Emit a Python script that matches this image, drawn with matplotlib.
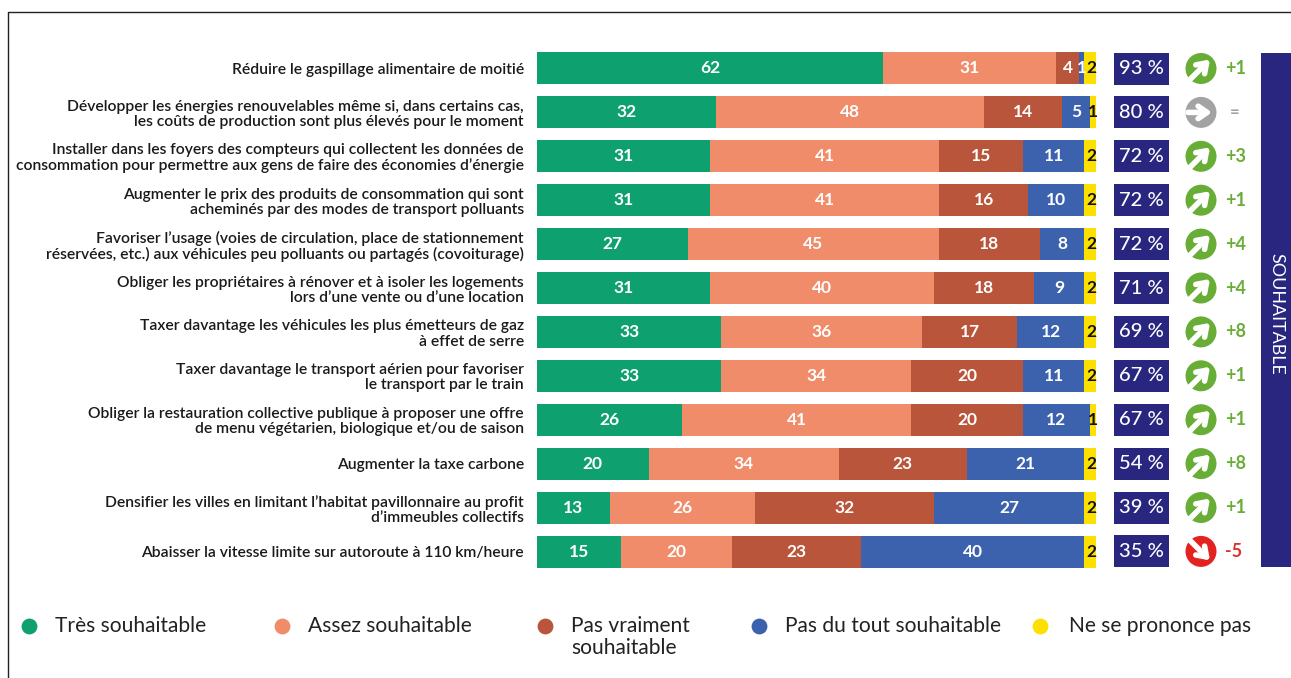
import matplotlib
matplotlib.use("Agg")
import matplotlib.pyplot as plt
from matplotlib.patches import Circle, Rectangle

plt.rcParams['font.family'] = ['Lato', 'DejaVu Sans']

questions = [
    "Réduire le gaspillage alimentaire de moitié",
    "Développer les énergies renouvelables même si, dans certains cas,\nles coûts de production sont plus élevés pour le moment",
    "Installer dans les foyers des compteurs qui collectent les données de\nconsommation pour permettre aux gens de faire des économies d’énergie",
    "Augmenter le prix des produits de consommation qui sont\nacheminés par des modes de transport polluants",
    "Favoriser l’usage (voies de circulation, place de stationnement\nréservées, etc.) aux véhicules peu polluants ou partagés (covoiturage)",
    "Obliger les propriétaires à rénover et à isoler les logements\nlors d’une vente ou d’une location",
    "Taxer davantage les véhicules les plus émetteurs de gaz\nà effet de serre",
    "Taxer davantage le transport aérien pour favoriser\nle transport par le train",
    "Obliger la restauration collective publique à proposer une offre\nde menu végétarien, biologique et/ou de saison",
    "Augmenter la taxe carbone",
    "Densifier les villes en limitant l’habitat pavillonnaire au profit\nd’immeubles collectifs",
    "Abaisser la vitesse limite sur autoroute à 110 km/heure",
]
tres = [62, 32, 31, 31, 27, 31, 33, 33, 26, 20, 13, 15]
assez = [31, 48, 41, 41, 45, 40, 36, 34, 41, 34, 26, 20]
pas_vraiment = [4, 14, 15, 16, 18, 18, 17, 20, 20, 23, 32, 23]
pas_du_tout = [1, 5, 11, 10, 8, 9, 12, 11, 12, 21, 27, 40]
nsp = [2, 1, 2, 2, 2, 2, 2, 2, 1, 2, 2, 2]
totals = ["93 %", "80 %", "72 %", "72 %", "72 %", "71 %", "69 %", "67 %", "67 %", "54 %", "39 %", "35 %"]
deltas = ["+1", "=", "+3", "+1", "+4", "+4", "+8", "+1", "+1", "+8", "+1", "-5"]
series_names = ["Très souhaitable", "Assez souhaitable", "Pas vraiment\nsouhaitable",
                "Pas du tout souhaitable", "Ne se prononce pas"]
series_values = [tres, assez, pas_vraiment, pas_du_tout, nsp]
colors = ["#0fa070", "#f08c6a", "#b9553a", "#3d62ad", "#fde000"]
band_label = "SOUHAITABLE"

W, H = 1291, 678
fig = plt.figure(figsize=(W / 100, H / 100), dpi=100, facecolor="white")

ov = fig.add_axes([0, 0, 1, 1], zorder=0)
ov.set_xlim(0, W)
ov.set_ylim(H, 0)
ov.axis("off")

L, R, T, B = 537, 1095.5, 46.5, 573.5
ax = fig.add_axes([L / W, 1 - B / H, (R - L) / W, (B - T) / H], zorder=1)
ax.patch.set_alpha(0)
n = len(questions)
ax.set_xlim(0, 100)
ax.set_ylim(n - 0.5, -0.5)
for s in ax.spines.values():
    s.set_visible(False)
ax.set_xticks([])
ax.set_yticks(range(n))
ax.set_yticklabels(questions, fontsize=11.25, color="#1a1a1a", fontweight="semibold",
                   linespacing=1.1, ha="right")
ax.tick_params(axis="y", length=0, pad=9.5)

lefts = [0] * n
for vals, c, idx in zip(series_values, colors, range(5)):
    ax.barh(range(n), vals, left=lefts, height=32 / 43.9, color=c, linewidth=0)
    for i, v in enumerate(vals):
        if idx == 4:
            ax.text(lefts[i] + v / 2 + (0.25 if v == 2 else 0), i, str(v), ha="center", va="center",
                    fontsize=12.5, fontweight="bold", color="#111111")
        else:
            ax.text(lefts[i] + v / 2, i, str(v), ha="center", va="center",
                    fontsize=12.5, fontweight="bold", color="white")
    lefts = [a + b for a, b in zip(lefts, vals)]

navy = "#29267f"
green = "#68ad36"
grey = "#a3a3a3"
red = "#e2231f"
ys = [68.5 + 43.9 * i for i in range(n)]

for y, tot, d in zip(ys, totals, deltas):
    ov.add_patch(Rectangle((1114, y - 16), 55, 32, color=navy, lw=0))
    ov.text(1141.5, y, tot, color="white", ha="center", va="center", fontsize=14.5, fontweight="medium")
    if d == "=":
        col, a, b, tc = grey, (-13, 0), (11, 0), "#a3a3a3"
    elif d.startswith("-"):
        col, a, b, tc = red, (-11, -11), (9, 9), "#d9342f"
    else:
        col, a, b, tc = green, (-11, 11), (9, -9), green
    ov.add_patch(Circle((1201, y), 15.5, color=col, lw=0))
    ov.annotate("", xy=(1201 + b[0], y + b[1]), xytext=(1201 + a[0], y + a[1]),
                arrowprops=dict(arrowstyle="->,head_length=0.65,head_width=0.45",
                                color="white", lw=4, shrinkA=0, shrinkB=0))
    ov.text(1225 if d != "=" else 1230, y, d, color=tc, ha="left", va="center",
            fontsize=13 if d != "=" else 12, fontweight="bold")

ov.add_patch(Rectangle((1261, 53), 30, 514, color=navy, lw=0))
ov.text(1276, 314, band_label, color="white", rotation=270, ha="center", va="center", fontsize=12.9)

legend_marker_x = [29, 282, 545, 759, 1040]
legend_text_x = [55, 308, 571, 785, 1069]
for mx, tx, name, c in zip(legend_marker_x, legend_text_x, series_names, colors):
    ov.scatter([mx], [626], s=130, color=c, linewidths=0)
    ov.text(tx, 615.5, name, ha="left", va="top", fontsize=15.1,
            color="#222222", linespacing=1.15)

ov.plot([7.5, 7.5, W], [H, 11.5, 11.5], color="#222222", lw=1)

fig.savefig("out.png", dpi=100)
